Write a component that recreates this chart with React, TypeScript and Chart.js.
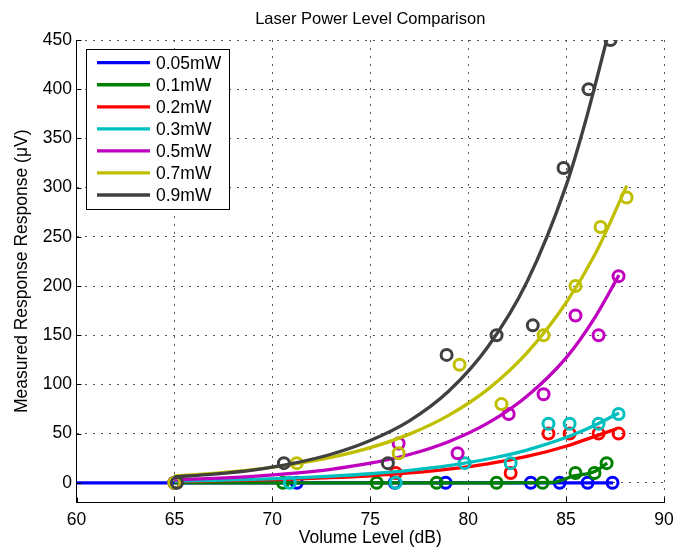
import React, { useEffect, useRef } from "react";
import { Chart, registerables } from "chart.js";

Chart.register(...registerables);

// ---------- data ----------
const levels = ["0.05mW", "0.1mW", "0.2mW", "0.3mW", "0.5mW", "0.7mW", "0.9mW"];
const colors = ["#0000ff", "#008000", "#ff0000", "#00bfbf", "#bf00bf", "#bfbf00", "#404040"];

const xTicks = [60, 65, 70, 75, 80, 85, 90];
const yTicks = [0, 50, 100, 150, 200, 250, 300, 350, 400, 450];

// measured points (circles)
const blueX = [65.0, 71.25, 76.25, 78.85, 83.2, 84.67, 86.1, 87.37];
const blueY = [0, 0, 0, 0, 0, 0, 0, 0];
const greenX = [65.0, 70.54, 75.33, 78.39, 81.45, 83.8, 85.48, 86.45, 87.07];
const greenY = [0, 0, 0, 0, 0, 0, 10, 10, 20];
const redX = [65.0, 76.3, 82.17, 84.1, 85.18, 86.66, 87.68];
const redY = [0, 10, 10, 50, 50, 50, 50];
const cyanX = [65.0, 70.89, 76.3, 79.82, 82.17, 84.1, 85.18, 86.66, 87.68];
const cyanY = [0, 0, 0, 20, 20, 60, 60, 60, 70];
const magentaX = [65.0, 76.45, 79.46, 82.07, 83.85, 85.48, 86.66, 87.68];
const magentaY = [0, 40, 30, 70, 90, 170, 150, 210];
const yellowX = [65.0, 71.25, 76.45, 79.56, 81.7, 83.85, 85.48, 86.76, 88.09];
const yellowY = [0, 20, 30, 120, 80, 150, 200, 260, 290];
const blackX = [65.13, 70.59, 75.9, 78.9, 81.45, 83.3, 84.87, 86.15, 87.27];
const blackY = [0, 20, 20, 130, 150, 160, 320, 400, 450];

// fitted curves
const blueFitX = [60, 87.4];
const blueFitY = [0, 0];
const greenFitX = [65, 70, 75, 80, 84.3, 85.4, 86.4, 87.1];
const greenFitY = [0, 0, 0, 0, 0.5, 7, 11, 20];
const redFitX = [65, 67, 69, 71, 73, 75, 77, 79, 81, 83, 85, 86.5, 87.6];
const redFitY = [1.4, 1.9, 2.7, 3.8, 5.2, 7.2, 10, 13.9, 19.3, 26.8, 37.2, 47.5, 55];
const cyanFitX = [65, 67, 69, 71, 73, 75, 77, 79, 81, 83, 85, 86.5, 87.7];
const cyanFitY = [1.8, 2.5, 3.5, 4.8, 6.7, 9.2, 12.7, 17.5, 24.2, 33.3, 46, 58.7, 71];
const magentaFitX = [65, 67, 69, 71, 73, 75, 77, 79, 81, 83, 85, 86.5, 87.7];
const magentaFitY = [3.1, 4.5, 6.5, 9.5, 13.7, 19.9, 28.8, 41.8, 60.6, 88, 127, 169, 211];
const yellowFitX = [65, 67, 69, 71, 73, 75, 77, 79, 81, 83, 85, 86.5, 88.1];
const yellowFitY = [7, 9.7, 13.4, 18.6, 25.8, 35.7, 49.5, 68.6, 95, 132, 183, 233, 302];
const blackFitX = [65, 67, 69, 71, 73, 75, 77, 79, 81, 83, 85, 86, 87.1];
const blackFitY = [6, 8.9, 13, 19.5, 29, 43, 63, 93, 138, 204, 302, 368, 452];

const pointSets = [
  [blueX, blueY], [greenX, greenY], [redX, redY], [cyanX, cyanY],
  [magentaX, magentaY], [yellowX, yellowY], [blackX, blackY],
];
const fitSets = [
  [blueFitX, blueFitY], [greenFitX, greenFitY], [redFitX, redFitY], [cyanFitX, cyanFitY],
  [magentaFitX, magentaFitY], [yellowFitX, yellowFitY], [blackFitX, blackFitY],
];

const FONT = "'Liberation Sans', Arial, Helvetica, sans-serif";

const zip = (xs: number[], ys: number[]) => xs.map((x, i) => ({ x, y: ys[i] }));

const inwardTicks = {
  id: "inwardTicks",
  afterDraw(chart: any) {
    const { ctx, chartArea, scales } = chart;
    const x = scales.x, y = scales.y;
    ctx.save();
    ctx.strokeStyle = "#000";
    ctx.lineWidth = 1;
    x.ticks.forEach((t: any) => {
      const px = Math.round(x.getPixelForValue(t.value)) + 0.5;
      ctx.beginPath();
      ctx.moveTo(px, chartArea.bottom);
      ctx.lineTo(px, chartArea.bottom - 5);
      ctx.stroke();
    });
    y.ticks.forEach((t: any) => {
      const py = Math.round(y.getPixelForValue(t.value)) + 0.5;
      ctx.beginPath();
      ctx.moveTo(chartArea.left, py);
      ctx.lineTo(chartArea.left + 5, py);
      ctx.stroke();
    });
    ctx.restore();
  },
};

const boxLegend = {
  id: "boxLegend",
  afterDatasetsDraw(chart: any) {
    const { ctx, chartArea } = chart;
    const left = chartArea.left + 9.5;
    const top = chartArea.top + 9;
    const w = 143;
    const h = 160;
    ctx.save();
    ctx.fillStyle = "#fff";
    ctx.fillRect(left, top, w, h);
    ctx.strokeStyle = "#000";
    ctx.lineWidth = 1;
    ctx.strokeRect(Math.round(left) + 0.5, Math.round(top) + 0.5, w, h);
    ctx.font = `17.5px ${FONT}`;
    ctx.textBaseline = "middle";
    ctx.textAlign = "left";
    levels.forEach((lab, i) => {
      const yy = top + 13.7 + i * 22.05;
      ctx.strokeStyle = colors[i];
      ctx.lineWidth = 3.3;
      ctx.beginPath();
      ctx.moveTo(left + 11, yy);
      ctx.lineTo(left + 64, yy);
      ctx.stroke();
      ctx.fillStyle = "#000";
      ctx.fillText(lab, left + 70, yy + 1);
    });
    ctx.restore();
  },
};

export default function App() {
  const ref = useRef<HTMLCanvasElement | null>(null);

  useEffect(() => {
    if (!ref.current) return;
    const datasets: any[] = [];
    const n = levels.length;
    let k = 0;
    const total = n * 2;
    for (let i = 0; i < n; i++) {
      const [px, py] = pointSets[i];
      datasets.push({
        type: "scatter",
        label: levels[i] + " data",
        data: zip(px, py),
        showLine: false,
        pointStyle: "circle",
        pointRadius: 5.5,
        pointBorderWidth: 3,
        pointBorderColor: colors[i],
        pointBackgroundColor: "rgba(0,0,0,0)",
        borderColor: colors[i],
        backgroundColor: "rgba(0,0,0,0)",
        order: total - k++,
      });
      const [fx, fy] = fitSets[i];
      datasets.push({
        type: "line",
        label: levels[i],
        data: zip(fx, fy),
        borderColor: colors[i],
        backgroundColor: colors[i],
        borderWidth: 3.3,
        pointRadius: 0,
        fill: false,
        cubicInterpolationMode: "monotone",
        order: total - k++,
      });
    }

    const chart = new Chart(ref.current, {
      type: "line",
      data: { datasets },
      plugins: [inwardTicks, boxLegend],
      options: {
        responsive: false,
        animation: false,
        events: [],
        layout: { autoPadding: false, padding: { left: 0, top: 0, right: 11, bottom: 0 } },
        plugins: {
          legend: { display: false },
          tooltip: { enabled: false },
          title: {
            display: true,
            text: "Laser Power Level Comparison",
            fullSize: false,
            color: "#000",
            font: { family: FONT, size: 16.5, weight: "normal" },
            padding: { top: 9.6, bottom: 10.6 },
          },
        },
        scales: {
          x: {
            type: "linear",
            min: 60,
            max: 90,
            afterFit: (s: any) => {
              s.height = 49.5;
              s.paddingLeft = 0;
              s.paddingRight = 0;
            },
            afterBuildTicks: (s: any) => { s.ticks = xTicks.map((v) => ({ value: v })); },
            ticks: {
              color: "#000",
              padding: 7,
              font: { family: FONT, size: 17.5 },
              callback: (v: any) => String(v),
            },
            grid: { color: "#555", lineWidth: 1, drawTicks: false },
            border: { display: true, color: "#000", width: 1, dash: [2, 6] },
            title: {
              display: true,
              text: "Volume Level (dB)",
              color: "#000",
              font: { family: FONT, size: 17.5 },
              padding: { top: 0, bottom: 3 },
            },
          },
          y: {
            type: "linear",
            min: -20,
            max: 450,
            afterFit: (s: any) => {
              s.width = 76.5;
              s.paddingTop = 0;
              s.paddingBottom = 0;
            },
            afterBuildTicks: (s: any) => { s.ticks = yTicks.map((v) => ({ value: v })); },
            ticks: {
              color: "#000",
              padding: 4.5,
              font: { family: FONT, size: 17.5 },
              callback: (v: any) => String(v),
            },
            grid: { color: "#555", lineWidth: 1, drawTicks: false },
            border: { display: true, color: "#000", width: 1, dash: [2, 6] },
            title: {
              display: true,
              text: "Measured Response Response (\u03bcV)",
              color: "#000",
              font: { family: FONT, size: 17.5 },
              padding: { top: 11.5, bottom: 0 },
            },
          },
        },
      } as any,
    });
    return () => chart.destroy();
  }, []);

  return (
    <div style={{ position: "fixed", left: 0, top: 0, width: 675, height: 552, background: "#fff" }}>
      <canvas ref={ref} width={675} height={552} style={{ display: "block" }} />
    </div>
  );
}
